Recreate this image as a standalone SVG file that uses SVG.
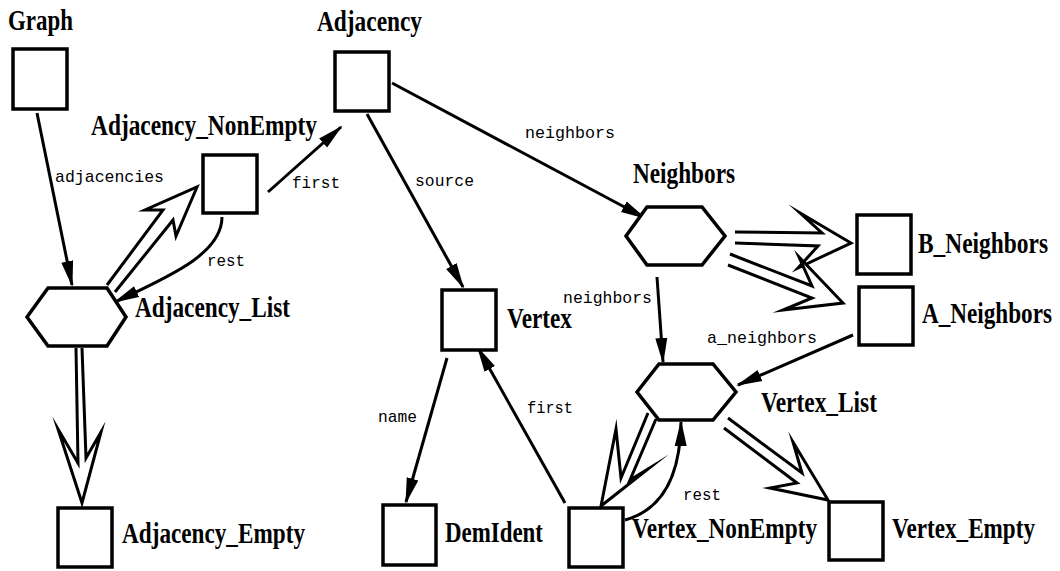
<svg xmlns="http://www.w3.org/2000/svg" width="1060" height="571" viewBox="0 0 1060 571">
<style>
.box{fill:#fff;stroke:#000;stroke-width:3.5}
.hex{fill:#fff;stroke:#000;stroke-width:3.5;stroke-linejoin:miter}
.lbl{font-family:"Liberation Serif","Times New Roman",serif;font-weight:bold;font-size:23.5px;fill:#000}
.rl{font-family:"Liberation Mono","Courier New",monospace;font-size:17px;fill:#000}
.edge{fill:none;stroke:#000;stroke-width:3}
.dbl{fill:#fff;stroke:#000;stroke-width:3;stroke-linejoin:miter;stroke-miterlimit:20}
</style>
<defs>
<marker id="ah" markerUnits="userSpaceOnUse" markerWidth="28" markerHeight="14" refX="24" refY="7" orient="auto">
<path d="M0,1 L26,7 L0,13 z" fill="#000"/>
</marker>
</defs>
<rect width="1060" height="571" fill="#fff"/>
<g id="connectors">
<path class="dbl" d="M107,285 L163,210 L145,210 L197,187 L176,236 L173,220 L115,292"/>
<path class="dbl" d="M76,348 L78,463 L58,429 L82,503 L101,432 L86,458 L82,348"/>
<path class="dbl" d="M735,232 L822,233 L800,213 L851,243 L798,268 L818,246 L735,243"/>
<path class="dbl" d="M730,254 L812,286 L799,257 L843,303 L783,310 L812,298 L728,265"/>
<path class="dbl" d="M648,413 L621,478 L616,429 L601,506 L648,469 L630,480 L656,419"/>
<path class="dbl" d="M728,418 L802,473 L793,442 L828,500 L770,488 L797,483 L724,428"/>
<path class="edge" marker-end="url(#ah)" d="M37,113 L72,285"/>
<path class="edge" marker-end="url(#ah)" d="M268,192 L341,127"/>
<path class="edge" marker-end="url(#ah)" d="M222,217 C222,255 165,278 115,302"/>
<path class="edge" marker-end="url(#ah)" d="M392,83 L645,218"/>
<path class="edge" marker-end="url(#ah)" d="M367,114 L463,287"/>
<path class="edge" marker-end="url(#ah)" d="M657,277 L663,362"/>
<path class="edge" marker-end="url(#ah)" d="M853,335 L738,385"/>
<path class="edge" marker-end="url(#ah)" d="M447,358 L406,502"/>
<path class="edge" marker-end="url(#ah)" d="M565,503 L478,348"/>
<path class="edge" marker-end="url(#ah)" d="M625,520 Q680,505 681,422"/>
<text class="rl" x="55" y="182" textLength="109" lengthAdjust="spacingAndGlyphs">adjacencies</text>
<text class="rl" x="292" y="188" textLength="48" lengthAdjust="spacingAndGlyphs">first</text>
<text class="rl" x="207" y="266" textLength="38" lengthAdjust="spacingAndGlyphs">rest</text>
<text class="rl" x="525" y="138" textLength="90" lengthAdjust="spacingAndGlyphs">neighbors</text>
<text class="rl" x="415" y="186" textLength="59" lengthAdjust="spacingAndGlyphs">source</text>
<text class="rl" x="563" y="303" textLength="89" lengthAdjust="spacingAndGlyphs">neighbors</text>
<text class="rl" x="707" y="343" textLength="110" lengthAdjust="spacingAndGlyphs">a_neighbors</text>
<text class="rl" x="378" y="422" textLength="39" lengthAdjust="spacingAndGlyphs">name</text>
<text class="rl" x="527" y="413" textLength="46" lengthAdjust="spacingAndGlyphs">first</text>
<text class="rl" x="683" y="500" textLength="38" lengthAdjust="spacingAndGlyphs">rest</text>
</g>
<g id="Graph">
<rect class="box" x="13" y="49" width="54" height="60"/>
<text class="lbl" transform="translate(8 30) scale(1 1.25)" textLength="65" lengthAdjust="spacingAndGlyphs">Graph</text>
</g>
<g id="Adjacency">
<rect class="box" x="335" y="52" width="54" height="59"/>
<text class="lbl" transform="translate(317 31) scale(1 1.25)" textLength="105" lengthAdjust="spacingAndGlyphs">Adjacency</text>
</g>
<g id="Adjacency_NonEmpty">
<rect class="box" x="203" y="155" width="54" height="58"/>
<text class="lbl" transform="translate(91 135) scale(1 1.25)" textLength="226" lengthAdjust="spacingAndGlyphs">Adjacency_NonEmpty</text>
</g>
<g id="Adjacency_List">
<polygon class="hex" points="27,317 48,288 107,288 126,317 107,346 48,346"/>
<text class="lbl" transform="translate(135 317) scale(1 1.25)" textLength="155" lengthAdjust="spacingAndGlyphs">Adjacency_List</text>
</g>
<g id="Adjacency_Empty">
<rect class="box" x="58" y="508" width="54" height="59"/>
<text class="lbl" transform="translate(122 543) scale(1 1.25)" textLength="183" lengthAdjust="spacingAndGlyphs">Adjacency_Empty</text>
</g>
<g id="Neighbors">
<polygon class="hex" points="626,236 647,207 702,207 725,236 702,265 647,265"/>
<text class="lbl" transform="translate(633 183) scale(1 1.25)" textLength="102" lengthAdjust="spacingAndGlyphs">Neighbors</text>
</g>
<g id="B_Neighbors">
<rect class="box" x="857" y="215" width="54" height="59"/>
<text class="lbl" transform="translate(918 253) scale(1 1.25)" textLength="130" lengthAdjust="spacingAndGlyphs">B_Neighbors</text>
</g>
<g id="A_Neighbors">
<rect class="box" x="859" y="287" width="54" height="58"/>
<text class="lbl" transform="translate(922 323) scale(1 1.25)" textLength="130" lengthAdjust="spacingAndGlyphs">A_Neighbors</text>
</g>
<g id="Vertex">
<rect class="box" x="442" y="290" width="54" height="60"/>
<text class="lbl" transform="translate(507 328) scale(1 1.25)" textLength="65" lengthAdjust="spacingAndGlyphs">Vertex</text>
</g>
<g id="Vertex_List">
<polygon class="hex" points="637,392 659,364 713,364 736,392 713,420 659,420"/>
<text class="lbl" transform="translate(761 412) scale(1 1.25)" textLength="116" lengthAdjust="spacingAndGlyphs">Vertex_List</text>
</g>
<g id="DemIdent">
<rect class="box" x="383" y="505" width="53" height="60"/>
<text class="lbl" transform="translate(445 542) scale(1 1.25)" textLength="98" lengthAdjust="spacingAndGlyphs">DemIdent</text>
</g>
<g id="Vertex_NonEmpty">
<rect class="box" x="569" y="508" width="54" height="59"/>
<text class="lbl" transform="translate(632 538) scale(1 1.25)" textLength="185" lengthAdjust="spacingAndGlyphs">Vertex_NonEmpty</text>
</g>
<g id="Vertex_Empty">
<rect class="box" x="829" y="502" width="54" height="58"/>
<text class="lbl" transform="translate(892 538) scale(1 1.25)" textLength="143" lengthAdjust="spacingAndGlyphs">Vertex_Empty</text>
</g>
</svg>
